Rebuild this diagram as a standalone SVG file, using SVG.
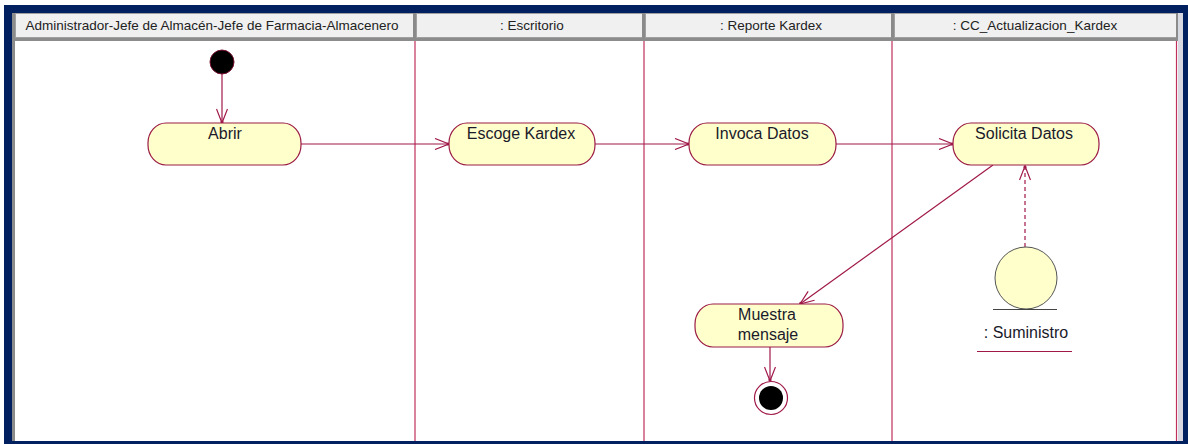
<svg xmlns="http://www.w3.org/2000/svg" width="1188" height="444" viewBox="0 0 1188 444">
  <style>
    .hdr { fill: #f0f0f0; stroke: #a0a0a0; stroke-width: 1; }
    .hdrtxt { font-family: "Liberation Sans", Arial, sans-serif; font-size: 13.5px; fill: #222; text-anchor: middle; }
    .lane { stroke: #c0305c; stroke-width: 1.2; fill: none; }
    .act { fill: #ffffcc; stroke: #9b1c45; stroke-width: 1.2; }
    .lbl { font-family: "Liberation Sans", Arial, sans-serif; font-size: 16px; fill: #1a1a2a; text-anchor: middle; }
    .flow { stroke: #a01848; stroke-width: 1.2; fill: none; }
    .dash { stroke-dasharray: 4 3; }
  </style>
  <defs>
    <marker id="open" viewBox="0 0 16 12" refX="15" refY="6" markerWidth="16" markerHeight="12" markerUnits="userSpaceOnUse" orient="auto">
      <path d="M1,0.5 L15,6 L1,11.5" fill="none" stroke="#a01848" stroke-width="1.2"/>
      <circle cx="14" cy="6" r="1.6" fill="#a01848"/>
    </marker>
  </defs>

  <!-- page and frame -->
  <rect x="0" y="0" width="1188" height="444" fill="#ffffff"/>
  <path d="M4,5 H1188 V444 H4 Z M12,13 V441 H1183 V13 Z" fill="#002060" fill-rule="evenodd"/>
  <rect x="12" y="13" width="3" height="428" fill="#8c8c8c"/>
  <rect x="1178" y="13" width="5" height="428" fill="#d8d8e0"/>

  <!-- swimlane headers -->
  <g id="headers">
    <rect class="hdr" x="15.5" y="13.5" width="398" height="24"/>
    <rect class="hdr" x="416.5" y="13.5" width="226" height="24"/>
    <rect class="hdr" x="645.5" y="13.5" width="246" height="24"/>
    <rect class="hdr" x="894.5" y="13.5" width="282" height="24"/>
    <rect x="413" y="13" width="3" height="25" fill="#8a8a8a"/>
    <rect x="642" y="13" width="3" height="25" fill="#8a8a8a"/>
    <rect x="891" y="13" width="3" height="25" fill="#8a8a8a"/>
    <rect x="1176" y="13" width="2" height="25" fill="#8a8a8a"/>
    <rect x="15" y="38" width="1163" height="3" fill="#8c8c8c"/>
    <text class="hdrtxt" x="212" y="30">Administrador-Jefe de Almacén-Jefe de Farmacia-Almacenero</text>
    <text class="hdrtxt" x="532" y="30">: Escritorio</text>
    <text class="hdrtxt" x="771" y="30">: Reporte Kardex</text>
    <text class="hdrtxt" x="1035" y="30">: CC_Actualizacion_Kardex</text>
  </g>

  <!-- lane separators -->
  <g id="lanes">
    <line class="lane" x1="415" y1="41" x2="415" y2="441"/>
    <line class="lane" x1="644" y1="41" x2="644" y2="441"/>
    <line class="lane" x1="892" y1="41" x2="892" y2="441"/>
    <line class="lane" x1="1176.5" y1="41" x2="1176.5" y2="441"/>
  </g>

  <!-- connectors -->
  <g id="connectors">
    <line class="flow" x1="222" y1="74" x2="222" y2="123" marker-end="url(#open)"/>
    <line class="flow" x1="301" y1="144" x2="449" y2="144" marker-end="url(#open)"/>
    <line class="flow" x1="595" y1="144" x2="689" y2="144" marker-end="url(#open)"/>
    <line class="flow" x1="836" y1="144" x2="953" y2="144" marker-end="url(#open)"/>
    <line class="flow" x1="993" y1="165" x2="800" y2="304" marker-end="url(#open)"/>
    <line class="flow" x1="770" y1="347" x2="770" y2="381" marker-end="url(#open)"/>
    <line class="flow dash" x1="1025" y1="247" x2="1025" y2="166" marker-end="url(#open)"/>
  </g>

  <!-- initial state -->
  <g id="start">
    <circle cx="222" cy="62" r="12" fill="#000" stroke="#7a1030" stroke-width="1"/>
  </g>

  <g id="abrir">
    <rect class="act" x="148" y="123" width="153" height="42" rx="18" ry="20"/>
    <text class="lbl" x="225" y="139">Abrir</text>
  </g>

  <g id="escoge-kardex">
    <rect class="act" x="449" y="123" width="146" height="42" rx="18" ry="20"/>
    <text class="lbl" x="521" y="139">Escoge Kardex</text>
  </g>

  <g id="invoca-datos">
    <rect class="act" x="689" y="123" width="147" height="42" rx="18" ry="20"/>
    <text class="lbl" x="762" y="139">Invoca Datos</text>
  </g>

  <g id="solicita-datos">
    <rect class="act" x="953" y="123" width="146" height="42" rx="18" ry="20"/>
    <text class="lbl" x="1024" y="139">Solicita Datos</text>
  </g>

  <g id="muestra-mensaje">
    <rect class="act" x="695" y="304" width="148" height="43" rx="18" ry="20"/>
    <text class="lbl" x="767" y="320">Muestra</text>
    <text class="lbl" x="768" y="340">mensaje</text>
  </g>

  <!-- final state -->
  <g id="end">
    <circle cx="771" cy="398" r="16.5" fill="#fff" stroke="#a01848" stroke-width="1.2"/>
    <circle cx="771" cy="398" r="12" fill="#000"/>
  </g>

  <!-- entity object -->
  <g id="suministro">
    <circle cx="1026" cy="278" r="31" fill="#ffffcc" stroke="#555" stroke-width="1"/>
    <line x1="993" y1="309.5" x2="1057" y2="309.5" stroke="#444" stroke-width="1.2"/>
    <text class="lbl" x="1026" y="338">: Suministro</text>
    <line x1="977" y1="351.5" x2="1072" y2="351.5" stroke="#a01848" stroke-width="1.2"/>
  </g>
</svg>
